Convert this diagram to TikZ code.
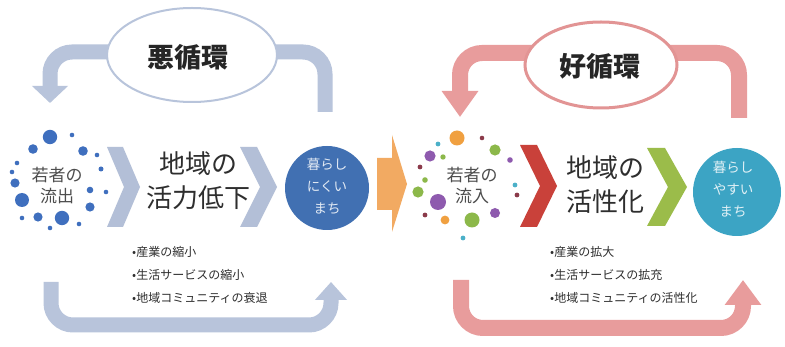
\documentclass[tikz,border=0pt]{standalone}
\usepackage{fontspec}
\setmainfont{Noto Sans CJK JP}
\usetikzlibrary{arrows.meta,shapes.geometric}
\definecolor{bluegray}{HTML}{B8C4DB}
\definecolor{chevgray}{HTML}{B3BFD7}
\definecolor{pinkloop}{HTML}{E89C9C}
\definecolor{pinkedge}{HTML}{E29494}
\definecolor{bluecirc}{HTML}{4170B2}
\definecolor{tealcirc}{HTML}{3CA4C4}
\definecolor{dotblue}{HTML}{3F6FBE}
\definecolor{dorange}{HTML}{F0A040}
\definecolor{dpurple}{HTML}{8E5AAE}
\definecolor{dgreen}{HTML}{8CB84A}
\definecolor{dteal}{HTML}{4BB0C8}
\definecolor{dmaroon}{HTML}{8B3A4A}
\definecolor{orangearr}{HTML}{F2AA62}
\definecolor{redchev}{HTML}{C9413A}
\definecolor{greenchev}{HTML}{9BBC4A}
\definecolor{txt}{HTML}{2E2E2E}
\tikzset{
  leftband/.style={draw=bluegray, line width=15pt, rounded corners=22pt},
  rightband/.style={draw=pinkloop, line width=16pt, rounded corners=22pt},
  bigtxt/.style={text=txt, font=\fontsize{26}{34}\selectfont, align=center, inner sep=0pt},
  smalltxt/.style={text=txt!85!white, font=\fontsize{17}{21}\selectfont, align=center, inner sep=0pt},
  circtxt/.style={font=\fontsize{13.5}{22}\selectfont, align=center, inner sep=0pt},
  listtxt/.style={text=txt, font=\fontsize{12}{23}\selectfont, align=left, anchor=west, inner sep=0pt},
  titletxt/.style={text=black!85, font=\bfseries\fontsize{27}{30}\selectfont, inner sep=0pt}
}
\begin{document}
\begin{tikzpicture}[x=1pt, y=-1pt]
\useasboundingbox[fill=white] (0,0) rectangle (785,347);

% ---------- left loop ----------
\coordinate (lts) at (325,112);
\coordinate (lte) at (50,103);
\draw[leftband, -{Triangle[width=35pt,length=17pt]}] (lts) -- (325,52) -- (50,52) -- (lte);
\coordinate (lbs) at (51,282);
\coordinate (lbe) at (331,282);
\draw[leftband, -{Triangle[width=31pt,length=18pt]}] (lbs) -- (51,325) -- (331,325) -- (lbe);
\node[ellipse, draw=bluegray, line width=2pt, fill=white, minimum width=170pt, minimum height=94pt, inner sep=0pt] (bad) at (192,55) {};
\node[titletxt] (badt) at (188,57) {悪循環};

% ---------- right loop ----------
\coordinate (rts) at (739,118);
\coordinate (rte) at (460,117);
\draw[rightband, -{Triangle[width=35pt,length=26pt]}] (rts) -- (739,53) -- (460,53) -- (rte);
\coordinate (rbs) at (461,280);
\coordinate (rbe) at (743,280);
\draw[rightband, -{Triangle[width=35pt,length=25pt]}] (rbs) -- (461,328) -- (743,328) -- (rbe);
\node[ellipse, draw=pinkedge, line width=3pt, fill=white, minimum width=152pt, minimum height=86pt, inner sep=0pt] (good) at (601,65) {};
\node[titletxt] (goodt) at (600,66) {好循環};

% ---------- left dots ----------
\foreach \x/\y/\r in {50/137/7.2, 72/135/2.3, 33/149/4.8, 83/151/4.8, 97/155/2.3, 17/163/2.3,
  101/169/2.5, 12/172/2.3, 15/183/4.6, 90/190/3.3, 106/192/2.3, 22/200/7, 90/207/4.6,
  22/218/2.3, 38/217/4.6, 62/218/7.2, 50/228/2.3, 79/224/2.3}
  \fill[dotblue] (\x,\y) circle (\r);
\node[smalltxt] (lout) at (57,186) {若者の\\流出};

% ---------- right dots ----------
\foreach \x/\y/\r/\c in {457/138/7.5/dorange, 482/138/2.3/dmaroon, 438/144/2.4/dteal,
  495/150/5.6/dgreen, 430/156/5.6/dpurple, 443/157/2.7/dgreen, 420/167/2.4/dmaroon,
  510/160/2.8/dpurple, 425/180/2.8/dgreen, 515/185/2.4/dteal, 418/192/5.6/dgreen,
  438/202/8/dpurple, 517/195/2.4/dmaroon, 425/215/2.4/dmaroon, 445/220/4.4/dorange,
  472/220/7.5/dgreen, 495/213/5/dpurple, 463/238/2.4/dteal}
  \fill[\c] (\x,\y) circle (\r);
\node[smalltxt] (rin) at (472,186) {若者の\\流入};

% ---------- left chevrons ----------
\fill[chevgray] (107,147) -- (123,147) -- (140,187) -- (123,227) -- (107,227) -- (124,187) -- cycle;
\fill[chevgray] (240,147) -- (257,147) -- (277,187) -- (257,227) -- (240,227) -- (260,187) -- cycle;
\node[bigtxt] (ldec) at (198,181) {地域の\\活力低下};
\node[circle, fill=bluecirc, minimum size=84pt, inner sep=0pt] (lcirc) at (327,188) {};
\node[circtxt, text=white!85!bluecirc] (lcirct) at (327,186) {暮らし\\にくい\\まち};

% ---------- orange arrow ----------
\fill[orangearr] (377,158) -- (392,158) -- (392,135) -- (407,184) -- (392,232) -- (392,210) -- (377,210) -- cycle;

% ---------- right chevrons ----------
\fill[redchev] (520,145) -- (537,145) -- (557,186) -- (537,227) -- (520,227) -- (540,186) -- cycle;
\fill[greenchev] (647,148) -- (665,148) -- (687,187) -- (665,226) -- (647,226) -- (668,187) -- cycle;
\node[bigtxt] (ract) at (605,185) {地域の\\活性化};
\node[circle, fill=tealcirc, minimum size=88pt, inner sep=0pt] (rcirc) at (737,192) {};
\node[circtxt, text=white!85!tealcirc] (rcirct) at (733,189) {暮らし\\やすい\\まち};

% ---------- lists ----------
\node[listtxt] (llist) at (132,275) {•産業の縮小\\•生活サービスの縮小\\•地域コミュニティの衰退};
\node[listtxt] (rlist) at (550,275) {•産業の拡大\\•生活サービスの拡充\\•地域コミュニティの活性化};
\end{tikzpicture}
\end{document}
